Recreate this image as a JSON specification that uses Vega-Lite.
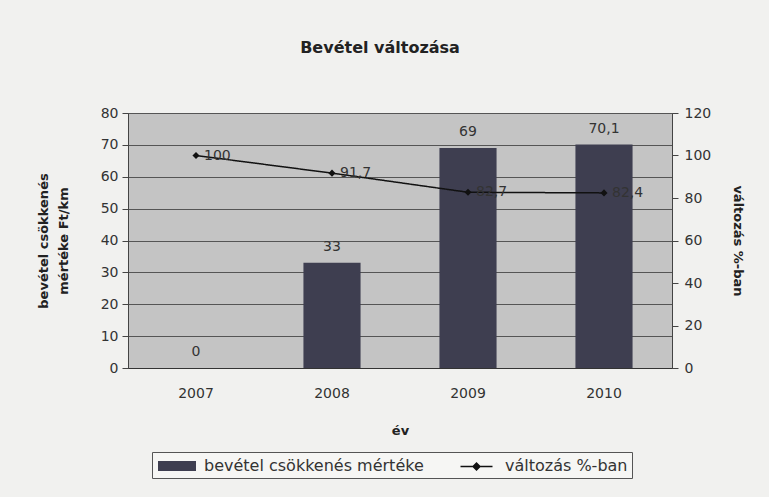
{
  "$schema": "https://vega.github.io/schema/vega-lite/v6.json",
  "autosize": {"type": "none"},
  "width": 544,
  "height": 255,
  "padding": {"left": 128, "top": 113, "right": 97, "bottom": 129},
  "background": "#f1f1ef",
  "config": {
    "font": "DejaVu Sans",
    "view": {"fill": "#c4c4c4", "stroke": "#666666", "strokeWidth": 1},
    "axis": {"labelFont": "DejaVu Sans", "titleFont": "DejaVu Sans", "labelColor": "#333333", "titleColor": "#222222", "domainColor": "#444444", "tickColor": "#444444", "labelFontSize": 14, "titleFontSize": 13, "titleFontWeight": "bold"}
  },
  "title": {"text": "Bevétel változása", "fontSize": 16, "fontWeight": "bold", "color": "#222222", "font": "DejaVu Sans", "anchor": "middle", "dx": -20, "offset": 50},
  "data": {"values": [
    {"ev": "2007", "bevetel": 0, "valtozas": 100, "bLabel": "0", "vLabel": "100", "s1": "bevétel csökkenés mértéke", "s2": "változás %-ban"},
    {"ev": "2008", "bevetel": 33, "valtozas": 91.7, "bLabel": "33", "vLabel": "91,7", "s1": "bevétel csökkenés mértéke", "s2": "változás %-ban"},
    {"ev": "2009", "bevetel": 69, "valtozas": 82.7, "bLabel": "69", "vLabel": "82,7", "s1": "bevétel csökkenés mértéke", "s2": "változás %-ban"},
    {"ev": "2010", "bevetel": 70.1, "valtozas": 82.4, "bLabel": "70,1", "vLabel": "82,4", "s1": "bevétel csökkenés mértéke", "s2": "változás %-ban"}
  ]},
  "encoding": {
    "x": {"field": "ev", "type": "ordinal", "scale": {"paddingInner": 0.58, "paddingOuter": 0.29},
      "axis": {"title": "év", "labelAngle": 0, "labelPadding": 18, "titlePadding": 24, "ticks": false, "domainColor": "#333333"}}
  },
  "layer": [
    {
      "encoding": {"y": {"type": "quantitative", "scale": {"domain": [0, 80]},
        "axis": {"title": ["bevétel csökkenés", "mértéke Ft/km"], "values": [0,10,20,30,40,50,60,70,80], "grid": true, "gridColor": "#555555", "gridWidth": 1, "tickSize": 6, "labelPadding": 4, "titlePadding": 30, "titleLineHeight": 20}}},
      "layer": [
        {
          "mark": {"type": "bar"},
          "encoding": {
            "y": {"field": "bevetel", "type": "quantitative"},
            "color": {"field": "s1", "type": "nominal", "scale": {"domain": ["bevétel csökkenés mértéke", "változás %-ban"], "range": ["#3e3e50", "rgba(0,0,0,0)"]},
              "legend": {"orient": "none", "legendX": 24, "legendY": 339, "direction": "horizontal", "title": null, "strokeColor": "#555555", "fillColor": "#f6f6f4", "padding": 4, "labelFontSize": 16, "labelFont": "DejaVu Sans", "labelColor": "#333333", "labelLimit": 0, "symbolType": "M-1.9,-0.5H1.9V0.5H-1.9Z", "symbolSize": 400, "symbolStrokeWidth": 0, "symbolOffset": 11, "columnPadding": 33, "labelOffset": 17}}
          }
        },
        {
          "mark": {"type": "text", "baseline": "bottom", "dy": -9, "fontSize": 14, "color": "#333333", "font": "DejaVu Sans"},
          "encoding": {
            "y": {"field": "bevetel", "type": "quantitative"},
            "text": {"field": "bLabel"}
          }
        }
      ]
    },
    {
      "encoding": {"y": {"type": "quantitative", "scale": {"domain": [0, 120]},
        "axis": {"orient": "right", "title": "változás %-ban", "values": [0,20,40,60,80,100,120], "grid": false, "tickSize": 6, "labelPadding": 6, "titlePadding": 20}}},
      "layer": [
        {
          "mark": {"type": "line", "strokeWidth": 1.5, "color": "#111111", "point": {"shape": "diamond", "filled": true, "size": 50, "color": "#111111"}},
          "encoding": {
            "y": {"field": "valtozas", "type": "quantitative"},
            "strokeDash": {"field": "s2", "type": "nominal", "scale": {"domain": ["változás %-ban"], "range": [[1, 0]]},
              "legend": {"orient": "none", "legendX": 338, "legendY": 343, "title": null, "padding": 0, "labelExpr": "''", "symbolType": "M-1.6,-0.07H1.6V0.07H-1.6Z M0,-0.45L0.45,0L0,0.45L-0.45,0Z", "symbolSize": 400, "symbolFillColor": "#111111", "symbolStrokeColor": "#111111", "symbolStrokeWidth": 0.5, "symbolOpacity": 1}}
          }
        },
        {
          "mark": {"type": "text", "align": "left", "dx": 8, "dy": 0, "fontSize": 14, "color": "#333333", "font": "DejaVu Sans"},
          "encoding": {
            "y": {"field": "valtozas", "type": "quantitative"},
            "text": {"field": "vLabel"}
          }
        }
      ]
    }
  ],
  "resolve": {"scale": {"y": "independent"}}
}
